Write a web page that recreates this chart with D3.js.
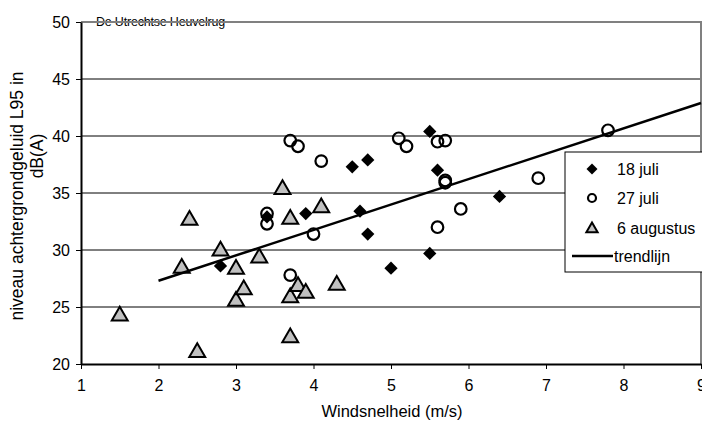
<!DOCTYPE html>
<html>
<head>
<meta charset="utf-8">
<script src="https://cdn.jsdelivr.net/npm/d3@7"></script>
<style>
  body { margin: 0; background: #fff; }
  text { font-family: "Liberation Sans", Arial, sans-serif; fill: #000; }
</style>
</head>
<body>
<svg id="chart" width="702" height="428"></svg>
<script>
// data
const juli18X = [2.8, 3.4, 3.9, 4.5, 4.6, 4.7, 4.7, 5.0, 5.5, 5.5, 5.6, 6.4];
const juli18Y = [28.6, 32.9, 33.2, 37.3, 33.4, 37.9, 31.4, 28.4, 40.4, 29.7, 37.0, 34.7];

const juli27X = [3.4, 3.4, 3.7, 3.7, 3.8, 4.0, 4.1, 5.1, 5.2, 5.6, 5.6, 5.7, 5.7, 5.7, 5.9, 6.9, 7.8];
const juli27Y = [33.2, 32.3, 27.8, 39.6, 39.1, 31.4, 37.8, 39.8, 39.1, 39.5, 32.0, 39.6, 36.1, 35.9, 33.6, 36.3, 40.5];

const aug6X = [1.5, 2.3, 2.4, 2.5, 2.8, 3.0, 3.0, 3.1, 3.3, 3.6, 3.7, 3.7, 3.7, 3.8, 3.9, 4.1, 4.3];
const aug6Y = [24.3, 28.5, 32.7, 21.1, 30.0, 28.4, 25.6, 26.6, 29.4, 35.4, 32.8, 25.9, 22.4, 26.9, 26.3, 33.8, 27.0];

const trendX = [2, 9];
const trendY = [27.3, 42.9];

const xTicks = [1, 2, 3, 4, 5, 6, 7, 8, 9];
const yTicks = [20, 25, 30, 35, 40, 45, 50];
const seriesNames = ["18 juli", "27 juli", "6 augustus", "trendlijn"];

const svg = d3.select("#chart");
const margin = { top: 22, right: 1, bottom: 64, left: 81 };
const width = 702, height = 428;

const x = d3.scaleLinear().domain([1, 9]).range([margin.left, width - margin.right]);
const y = d3.scaleLinear().domain([20, 50]).range([height - margin.bottom, margin.top]);

// subtitle (drawn under the frame line)
svg.append("text")
  .attr("x", 96).attr("y", 26)
  .style("font-size", "12.5px")
  .style("letter-spacing", "-0.2px")
  .text("De Utrechtse Heuvelrug");

// gridlines
svg.append("g").selectAll("line")
  .data(yTicks.filter(d => d > 20 && d < 50))
  .join("line")
  .attr("x1", x(1)).attr("x2", x(9))
  .attr("y1", d => y(d)).attr("y2", d => y(d))
  .attr("stroke", "#000").attr("stroke-width", 1);

// plot frame (top/right grey)
svg.append("path")
  .attr("d", `M${x(1)},${y(50)}H${x(9)}V${y(20)}`)
  .attr("fill", "none").attr("stroke", "#808080").attr("stroke-width", 2);

// axes
const xAxis = svg.append("g")
  .attr("transform", `translate(0,${y(20)})`)
  .call(d3.axisBottom(x).tickValues(xTicks).tickSize(5).tickSizeOuter(0).tickPadding(11));
const yAxis = svg.append("g")
  .attr("transform", `translate(${x(1)},0)`)
  .call(d3.axisLeft(y).tickValues(yTicks).tickSize(5).tickSizeOuter(0).tickPadding(6));

[xAxis, yAxis].forEach(g => {
  g.select(".domain").attr("stroke", "#000").attr("stroke-width", 2);
  g.selectAll(".tick line").attr("stroke", "#000");
  g.selectAll(".tick text").style("font-size", "16px").style("font-family", "Liberation Sans, Arial, sans-serif").attr("fill", "#000");
});
yAxis.selectAll(".tick text").attr("dy", "0.35em");

// axis titles
svg.append("text")
  .attr("x", 392).attr("y", 417)
  .attr("text-anchor", "middle")
  .style("font-size", "16.5px")
  .text("Windsnelheid (m/s)");

svg.append("text")
  .attr("transform", "translate(23,196) rotate(-90)")
  .attr("text-anchor", "middle")
  .style("font-size", "17.5px")
  .text("niveau achtergrondgeluid L95 in");
svg.append("text")
  .attr("transform", "translate(43,156) rotate(-90)")
  .attr("text-anchor", "middle")
  .style("font-size", "17.5px")
  .text("dB(A)");

// marker shapes
const diamond = d3.symbol().type(d3.symbolSquare).size(88);
const triangle = d3.symbol().type(d3.symbolTriangle).size(110);

const pts = (xs, ys) => xs.map((v, i) => ({ x: v, y: ys[i] }));

const marks = svg.append("g");

marks.selectAll("path.d18")
  .data(pts(juli18X, juli18Y))
  .join("path")
  .attr("class", "d18")
  .attr("d", diamond)
  .attr("transform", d => `translate(${x(d.x)},${y(d.y)}) rotate(45)`)
  .attr("fill", "#000");

marks.selectAll("circle.d27")
  .data(pts(juli27X, juli27Y))
  .join("circle")
  .attr("class", "d27")
  .attr("cx", d => x(d.x)).attr("cy", d => y(d.y))
  .attr("r", 5.8)
  .attr("fill", "none")
  .attr("stroke", "#000").attr("stroke-width", 2.2);

marks.selectAll("path.d6")
  .data(pts(aug6X, aug6Y))
  .join("path")
  .attr("class", "d6")
  .attr("d", triangle)
  .attr("transform", d => `translate(${x(d.x)},${y(d.y) + 1})`)
  .attr("fill", "#c0c0c0")
  .attr("stroke", "#000").attr("stroke-width", 2)
  .attr("stroke-linejoin", "miter");

// trend line
svg.append("path")
  .datum(pts(trendX, trendY))
  .attr("d", d3.line().x(d => x(d.x)).y(d => y(d.y)))
  .attr("fill", "none")
  .attr("stroke", "#000").attr("stroke-width", 2.5);

// legend
const legend = svg.append("g").attr("transform", "translate(565,152)");
legend.append("rect")
  .attr("width", 150).attr("height", 120)
  .attr("fill", "#fff").attr("stroke", "#000").attr("stroke-width", 1);

const rowY = [17, 46, 76, 104];
legend.append("path")
  .attr("d", d3.symbol().type(d3.symbolSquare).size(60))
  .attr("transform", `translate(27,${rowY[0]}) rotate(45)`)
  .attr("fill", "#000");
legend.append("circle")
  .attr("cx", 27).attr("cy", rowY[1]).attr("r", 4)
  .attr("fill", "#fff").attr("stroke", "#000").attr("stroke-width", 2.2);
legend.append("path")
  .attr("d", d3.symbol().type(d3.symbolTriangle).size(55))
  .attr("transform", `translate(27,${rowY[2] + 1})`)
  .attr("fill", "#c0c0c0").attr("stroke", "#000").attr("stroke-width", 2);
legend.append("line")
  .attr("x1", 7).attr("x2", 48)
  .attr("y1", rowY[3]).attr("y2", rowY[3])
  .attr("stroke", "#000").attr("stroke-width", 2.5);

legend.selectAll("text.lbl")
  .data(seriesNames)
  .join("text")
  .attr("class", "lbl")
  .attr("x", (d, i) => i === 3 ? 49 : 52)
  .attr("y", (d, i) => rowY[i])
  .attr("dy", "0.35em")
  .style("font-size", "16px")
  .text(d => d);
</script>
</body>
</html>
